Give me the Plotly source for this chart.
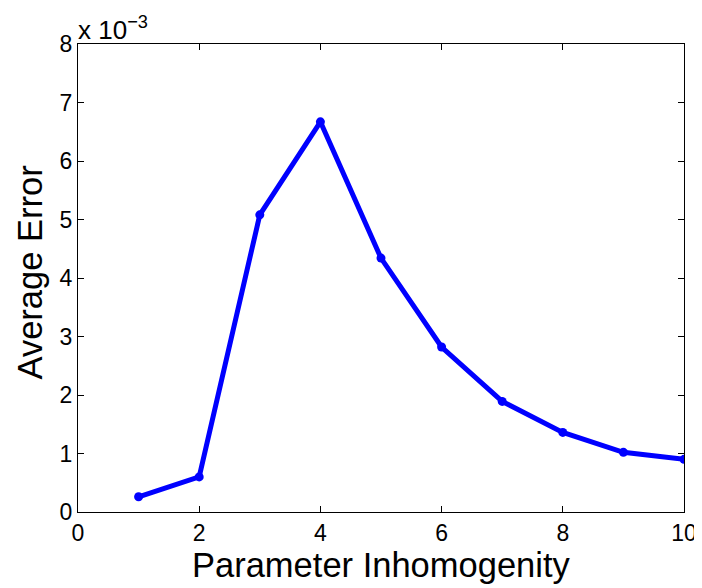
import plotly.graph_objects as go

# Data (y values in units of 1e-3, as shown on the axis)
param_inhomogeneity = [1, 2, 3, 4, 5, 6, 7, 8, 9, 10]
average_error_e3 = [0.26, 0.60, 5.08, 6.67, 4.34, 2.82, 1.89, 1.36, 1.02, 0.90]
x_ticks = [0, 2, 4, 6, 8, 10]
y_ticks = [0, 1, 2, 3, 4, 5, 6, 7, 8]

FONT = "Liberation Sans, Arial, Helvetica, sans-serif"

fig = go.Figure()
fig.add_trace(go.Scatter(
    x=param_inhomogeneity, y=average_error_e3,
    mode="lines+markers",
    line=dict(color="rgb(0,0,255)", width=5),
    marker=dict(color="rgb(0,0,255)", size=9),
    showlegend=False,
))

axis_common = dict(
    showline=True, linecolor="black", linewidth=1.3, mirror="ticks",
    ticks="inside", ticklen=6, tickwidth=1, tickcolor="black",
    showgrid=False, zeroline=False, automargin=False,
    tickfont=dict(family=FONT, size=23, color="black"),
)

# page body has an 8px default margin, so the figure is sized to fit inside it
fig.update_layout(
    width=694, height=580,
    margin=dict(l=70, r=18, t=36, b=76, autoexpand=False),
    paper_bgcolor="white", plot_bgcolor="white",
    xaxis=dict(range=[0, 10], tickvals=x_ticks, ticktext=[str(v) for v in x_ticks],
               **axis_common),
    yaxis=dict(range=[0, 8], tickvals=y_ticks, ticktext=[str(v) for v in y_ticks],
               **axis_common),
)

# Axis titles
fig.add_annotation(
    x=0.5, y=-0.113, xref="paper", yref="paper", xanchor="center", yanchor="middle",
    text="Parameter Inhomogenity", showarrow=False,
    font=dict(family=FONT, size=34.5, color="black"),
)
fig.add_annotation(
    x=-0.079, y=0.512, xref="paper", yref="paper", xanchor="center", yanchor="middle",
    text="Average Error", showarrow=False, textangle=-90,
    font=dict(family=FONT, size=34.5, color="black"),
)

# Exponent label
fig.add_annotation(
    x=0, y=1, xref="paper", yref="paper", xanchor="left", yanchor="bottom",
    text="x 10<sup>−3</sup>", showarrow=False, yshift=-3, xshift=-2,
    font=dict(family=FONT, size=26, color="black"),
)

fig.write_html("out.html")
